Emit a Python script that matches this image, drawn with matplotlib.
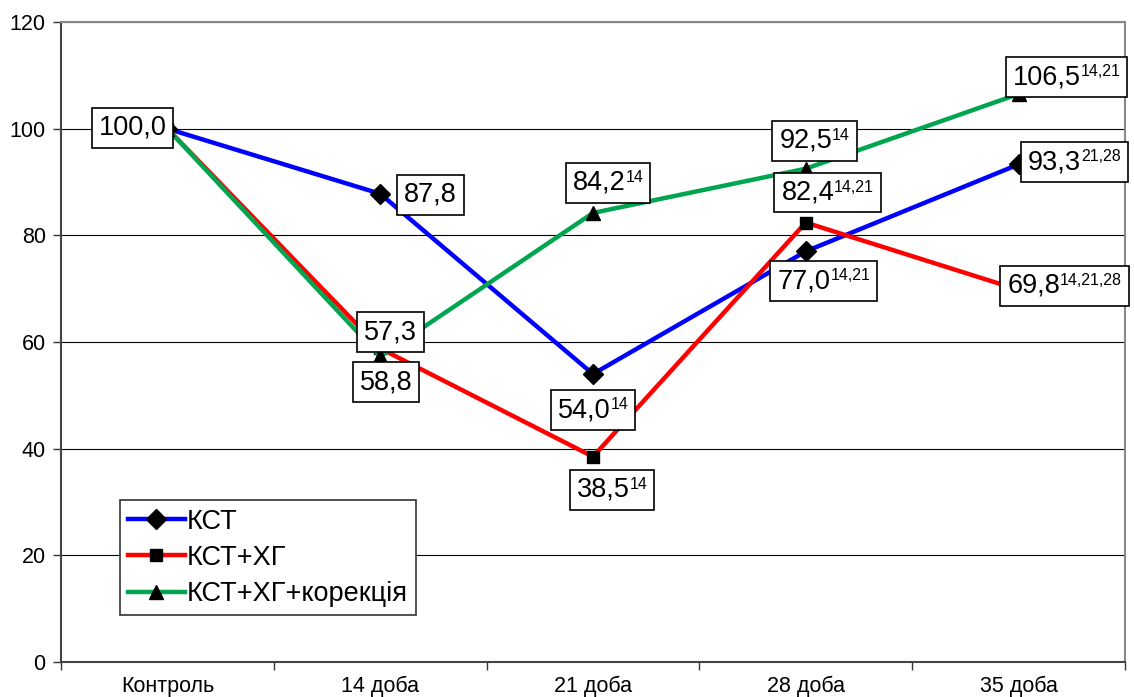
import matplotlib.pyplot as plt
from matplotlib.offsetbox import TextArea, HPacker, AnnotationBbox

plt.rcParams['font.family'] = ['Liberation Sans', 'DejaVu Sans']

# Data
categories = ["Контроль", "14 доба", "21 доба", "28 доба", "35 доба"]
kst = [100.0, 87.8, 54.0, 77.0, 93.3]
kst_hg = [100.0, 58.8, 38.5, 82.4, 69.8]
kst_hg_kor = [100.0, 57.3, 84.2, 92.5, 106.5]

kst_sup = ["", "", "14", "14,21", "21,28"]
kst_hg_sup = ["", "", "14", "14,21", "14,21,28"]
kst_hg_kor_sup = ["", "", "14", "14", "14,21"]

# label offsets in pixels (dx, dy down)
kst_off = [(-35, -1), (50, 1), (0, 36), (18, 30), (56, -2)]
kst_hg_off = [None, (6, 34), (19, 33), (22, -30), (46, -4)]
kst_hg_kor_off = [None, (10, -24), (15, -30), (9, -28), (48, -17)]

x = list(range(len(categories)))

fig = plt.figure(figsize=(11.34, 6.97), dpi=100)
ax = fig.add_axes([0.0538, 0.0502, 0.9382, 0.9182])

series = [
    (kst, "КСТ", "#0000FF", "D", 10, kst_sup, kst_off),
    (kst_hg, "КСТ+ХГ", "#FF0000", "s", 9, kst_hg_sup, kst_hg_off),
    (kst_hg_kor, "КСТ+ХГ+корекція", "#00A550", "^", 10, kst_hg_kor_sup, kst_hg_kor_off),
]

for vals, name, col, mk, ms, sups, offs in series:
    ax.plot(x, vals, color=col, lw=3.2, marker=mk, markersize=ms,
            markerfacecolor="black", markeredgecolor="black", label=name, zorder=3)

# labels with superscripts, drawn on top of the lines
for vals, name, col, mk, ms, sups, offs in series:
    for i, v in enumerate(vals):
        if offs[i] is None:
            continue
        parts = [TextArea(f"{v:.1f}".replace(".", ","), textprops=dict(size=19.5))]
        if sups[i]:
            parts.append(TextArea(sups[i], textprops=dict(size=11.5)))
        box = HPacker(children=parts, align="top", pad=0, sep=0)
        dx, dy = offs[i]
        ab = AnnotationBbox(box, (x[i], v), xybox=(dx * 0.72, -dy * 0.72),
                            boxcoords="offset points", box_alignment=(0.5, 0.5),
                            pad=0.5, frameon=True,
                            bboxprops=dict(fc="white", ec="black", lw=1.2))
        ab.set_zorder(5)
        ax.add_artist(ab)

ax.set_xlim(-0.5, 4.5)
ax.set_ylim(0, 120)
ax.set_yticks(range(0, 121, 20))
ax.set_xticks(x)
ax.set_xticklabels(categories)
ax.set_xticks([i - 0.5 for i in range(6)], minor=True)
ax.tick_params(axis="x", which="major", length=0, pad=10, labelsize=15.5)
ax.tick_params(axis="x", which="minor", length=6, width=1, color="#333333", direction="out")
ax.tick_params(axis="y", length=6, width=1, color="#333333", labelsize=15.5, pad=5)

ax.grid(axis="y", color="black", lw=0.8)
ax.set_axisbelow(True)
for s in ["left", "bottom"]:
    ax.spines[s].set_color("#444444")
    ax.spines[s].set_linewidth(1.5)
for s in ["top", "right"]:
    ax.spines[s].set_color("#888888")
    ax.spines[s].set_linewidth(1.5)

leg = ax.legend(loc="lower left", bbox_to_anchor=(0.055, 0.073), borderaxespad=0,
                fontsize=19.5, fancybox=False, framealpha=1, edgecolor="#333333",
                handlelength=2.1, handletextpad=0.1, labelspacing=0.38,
                borderpad=0.3)
leg.get_frame().set_linewidth(1.2)
leg.set_zorder(6)

plt.savefig("out.png", dpi=100)
